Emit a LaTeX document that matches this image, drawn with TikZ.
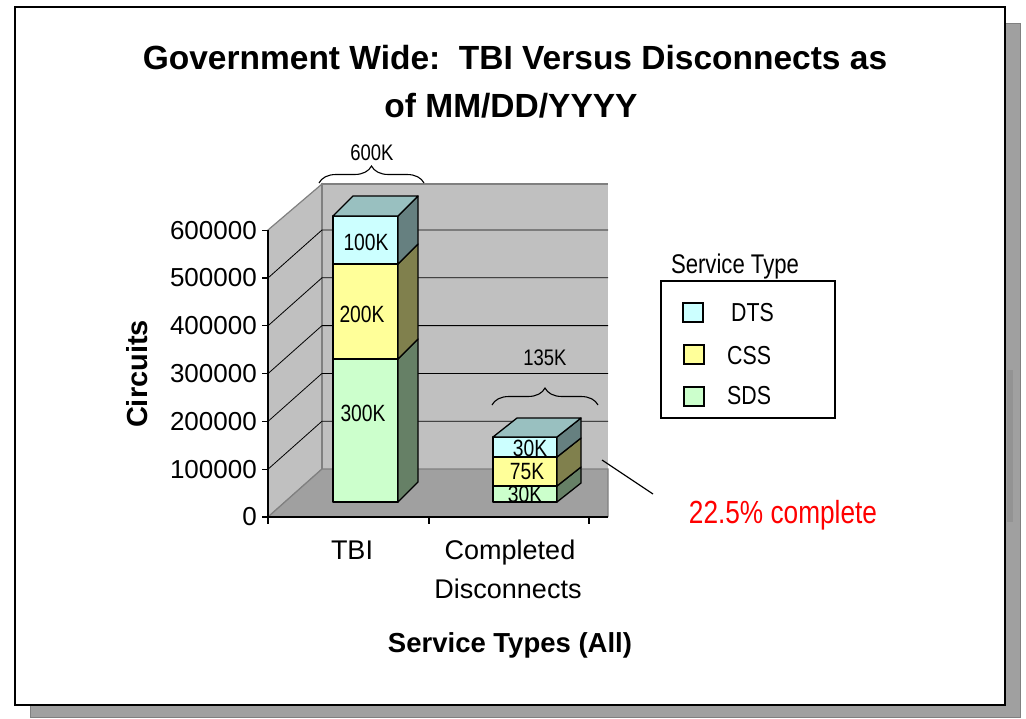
\documentclass[tikz,border=0pt]{standalone}
\usepackage{fontspec}
\setmainfont{Liberation Sans}
\newfontfamily\narrowfont{Liberation Sans}[FakeStretch=0.82]
\usetikzlibrary{decorations.pathreplacing}

\definecolor{wallgray}{HTML}{C0C0C0}
\definecolor{floorgray}{HTML}{A0A0A0}
\definecolor{edgegray}{HTML}{808080}
\definecolor{shadowgray}{HTML}{A0A0A0}
\definecolor{dtsfront}{HTML}{CCFFFF}
\definecolor{dtsside}{HTML}{668080}
\definecolor{dtstop}{HTML}{99C0C0}
\definecolor{cssfront}{HTML}{FFFF99}
\definecolor{cssside}{HTML}{80804D}
\definecolor{sdsfront}{HTML}{CCFFCC}
\definecolor{sdsside}{HTML}{668066}
\definecolor{pctred}{HTML}{FF0000}

% one segment of a 3d bar: x1, x2, ytop, ybot, dx, dy, front, side
\newcommand{\barseg}[8]{%
  \filldraw[barline, fill=#7] (#1,#4) rectangle (#2,#3);
  \filldraw[barline, fill=#8] (#2,#4) -- (#2+#5,#4-#6) -- (#2+#5,#3-#6) -- (#2,#3) -- cycle;
}

\begin{document}
\begin{tikzpicture}[x=1pt, y=-1pt,
    barline/.style={draw=black, line width=1.3pt, line join=round},
    txt/.style={inner sep=0pt, font=\fontsize{27}{32}\selectfont},
    ticklabel/.style={txt, anchor=east, font=\fontsize{26}{30}\selectfont},
    barlabel/.style={inner sep=0pt, font=\narrowfont\fontsize{23.5}{28}\selectfont},
    bracelabel/.style={inner sep=0pt, font=\narrowfont\fontsize{22.5}{27}\selectfont},
    legendtext/.style={inner sep=0pt, anchor=west, font=\narrowfont\fontsize{26}{30}\selectfont},
    swatch/.style={draw=black, line width=1.2pt},
    bracket/.style={decorate, decoration={brace, amplitude=17pt}, line width=1.1pt}]
            \useasboundingbox (0,0) rectangle (1026,718);
            \fill[white] (0,0) rectangle (1026,718);

            % frame and its shadow
            \filldraw[fill=shadowgray, draw=edgegray, line width=1pt] (30,23) rectangle (1020,717);
            \fill[edgegray!85] (1007,370) rectangle (1013,522);
            \filldraw[fill=white, draw=black, line width=2.5pt] (15,7) rectangle (1005,705);

            % title
            \node[txt, anchor=base, font=\bfseries\fontsize{33.5}{40}\selectfont] (title1) at (515,69) {Government Wide:\ \ TBI Versus Disconnects as};
            \node[txt, anchor=base, font=\bfseries\fontsize{33.5}{40}\selectfont] (title2) at (511,117) {of MM/DD/YYYY};

            \coordinate (O)       at (268,517);
            \coordinate (AxisTop) at (268,230);
            \coordinate (BackO)   at (322,469);
            \coordinate (BackTop) at (322,184);
            \coordinate (BackR)   at (608,184);
            \coordinate (FloorR)  at (608,469);
            \coordinate (XAxisMax) at (608,517);

            % walls and floor
            \filldraw[fill=wallgray, draw=edgegray, line width=1.2pt] (O) -- (AxisTop) -- (BackTop) -- (BackO) -- cycle;
            \fill[wallgray] (BackTop) rectangle (FloorR);
            \draw[edgegray, line width=1.2pt] (BackO) -- (BackTop) -- (BackR);
            \filldraw[fill=floorgray, draw=edgegray, line width=1.2pt] (O) -- (BackO) -- (FloorR) -- (XAxisMax);
            \foreach \k in {1,...,5}
              {
              \draw[black, line width=0.8pt] (268,517-\k*47.8) -- (322,469-\k*47.8) -- (608,469-\k*47.8);
              }

            % axes
            \draw[black, line width=1.2pt] (AxisTop) -- (O) -- (XAxisMax);
            \foreach \k/\v in {0/0,1/100000,2/200000,3/300000,4/400000,5/500000,6/600000}
              {
              \draw[black, line width=1.2pt] (262,517-\k*47.8) -- (268,517-\k*47.8);
              \node[ticklabel] (tick\k) at (257,517-\k*47.8) {\v};
              }
            \foreach \x in {268,429,589}
              \draw[black, line width=1.2pt] (\x,517) -- (\x,524);

            % TBI bar
            \barseg{333}{398}{359}{502}{20}{20}{sdsfront}{sdsside}
            \barseg{333}{398}{264}{359}{20}{20}{cssfront}{cssside}
            \barseg{333}{398}{216}{264}{20}{20}{dtsfront}{dtsside}
            \filldraw[barline, fill=dtstop] (333,216) -- (353,196) -- (418,196) -- (398,216) -- cycle;
            \node[barlabel] (tbiSDS) at (363,413) {300K};
            \node[barlabel] (tbiCSS) at (362,314) {200K};
            \node[barlabel] (tbiDTS) at (366,242) {100K};

            % completed disconnects bar
            \barseg{493}{557}{486}{502}{24}{19}{sdsfront}{sdsside}
            \barseg{493}{557}{457}{486}{24}{19}{cssfront}{cssside}
            \barseg{493}{557}{437}{457}{24}{19}{dtsfront}{dtsside}
            \filldraw[barline, fill=dtstop] (493,437) -- (517,418) -- (581,418) -- (557,437) -- cycle;
            \node[barlabel] (cdSDS) at (525,494) {30K};
            \node[barlabel] (cdCSS) at (527,472) {75K};
            \node[barlabel] (cdDTS) at (530,448) {30K};

            % totals
            \coordinate (TbiBraceL) at (319,183);
            \coordinate (TbiBraceR) at (424,183);
            \coordinate (CdBraceL)  at (492,405);
            \coordinate (CdBraceR)  at (598,405);
            \draw[bracket] (TbiBraceL) -- (TbiBraceR);
            \draw[bracket] (CdBraceL) -- (CdBraceR);
            \node[bracelabel] (tbitotal) at (372,153) {600K};
            \node[bracelabel] (cdtotal) at (545,358) {135K};

            % category and axis labels
            \node[txt, anchor=base] (catTBI) at (352,559) {TBI};
            \node[txt, anchor=base] (catCD1) at (510,559) {Completed};
            \node[txt, anchor=base] (catCD2) at (508,598) {Disconnects};
            \node[txt, anchor=base, font=\bfseries\fontsize{27.5}{32}\selectfont] (xtitle) at (510,652) {Service Types (All)};
            \node[txt, rotate=90, font=\bfseries\fontsize{29}{34}\selectfont] (ytitle) at (137,374) {Circuits};

            % legend
            \draw[black, line width=1.5pt] (661,281) rectangle (835,418);
            \node[inner sep=0pt, font=\narrowfont\fontsize{27}{32}\selectfont, anchor=base] (legtitle) at (735,273) {Service Type};
            \filldraw[swatch, fill=dtsfront] (683,303) rectangle (703,322);
            \filldraw[swatch, fill=cssfront] (684,345) rectangle (704,364);
            \filldraw[swatch, fill=sdsfront] (684,387) rectangle (704,406);
            \node[legendtext] (legDTS) at (731,313) {DTS};
            \node[legendtext] (legCSS) at (727,356) {CSS};
            \node[legendtext] (legSDS) at (727,396) {SDS};

            % percentage note
            \coordinate (NoteA) at (602,460);
            \coordinate (NoteB) at (653,494);
            \draw[black, line width=1.2pt] (NoteA) -- (NoteB);
            \node[inner sep=0pt, anchor=base, text=pctred, font=\narrowfont\fontsize{32}{38}\selectfont] (note) at (783,523) {22.5\% complete};
        \end{tikzpicture}
\end{document}
